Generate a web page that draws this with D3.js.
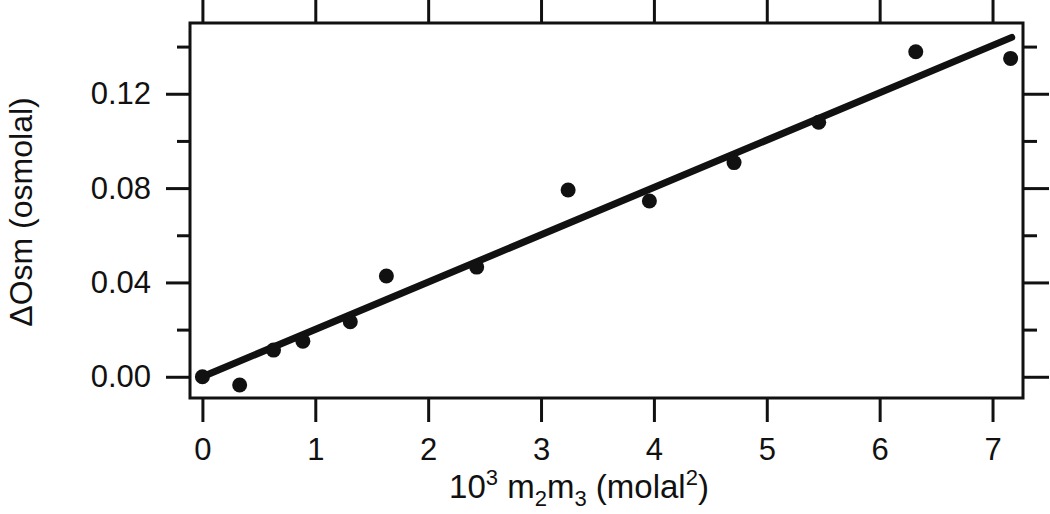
<script src="https://d3js.org/d3.v7.min.js"></script>
<style>
  body { margin: 0; background: #fff; }
  text { font-family: "Liberation Sans", Arial, sans-serif; fill: #111; }
</style>
<svg id="chart"></svg>
<script>
  // measured points
  var xVals = [0, 0.33, 0.63, 0.89, 1.31, 1.63, 2.43, 3.24, 3.96, 4.71, 5.46, 6.32, 7.16]
  var yVals = [0.000, -0.0035, 0.0113, 0.0151, 0.0233, 0.0427, 0.0465, 0.0792, 0.0745, 0.0908, 0.1079, 0.1378, 0.135]
  // linear fit through origin
  var fitX = [0, 7.17]
  var fitY = [0, 0.1439]
  var xTicks = [0, 1, 2, 3, 4, 5, 6, 7]
  var yMajor = [0, 0.04, 0.08, 0.12]
  var yMinor = [0.02, 0.06, 0.10, 0.14]

  var W = 1050, H = 514
  var L = 190, R = 1023, T = 23, B = 398
  var svg = d3.select("#chart").attr("width", W).attr("height", H)

  var x = d3.scaleLinear().domain([-0.11, 7.27]).range([L, R])
  var y = d3.scaleLinear().domain([-0.009, 0.15]).range([B, T])

  function styleAxis(g) {
    g.select(".domain").remove()
    g.selectAll("line").attr("stroke", "#111").attr("stroke-width", 3)
    g.selectAll("text").style("font-size", "31px").attr("fill", "#111")
  }

  // bottom & top
  svg.append("g").attr("transform", "translate(0," + B + ")")
      .call(d3.axisBottom(x).tickValues(xTicks).tickFormat(d3.format("d")).tickSize(24).tickSizeOuter(0).tickPadding(16))
      .call(styleAxis)
  svg.append("g").attr("transform", "translate(0," + T + ")")
      .call(d3.axisTop(x).tickValues(xTicks).tickFormat("").tickSize(24).tickSizeOuter(0))
      .call(styleAxis)

  // left
  svg.append("g").attr("transform", "translate(" + L + ",0)")
      .call(d3.axisLeft(y).tickValues(yMajor).tickFormat(d3.format(".2f")).tickSize(24).tickSizeOuter(0).tickPadding(15))
      .call(styleAxis)
  svg.append("g").attr("transform", "translate(" + L + ",0)")
      .call(d3.axisLeft(y).tickValues(yMinor).tickFormat("").tickSize(13).tickSizeOuter(0))
      .call(styleAxis)
  // right
  svg.append("g").attr("transform", "translate(" + R + ",0)")
      .call(d3.axisRight(y).tickValues(yMajor).tickFormat("").tickSize(26).tickSizeOuter(0))
      .call(styleAxis)
  svg.append("g").attr("transform", "translate(" + R + ",0)")
      .call(d3.axisRight(y).tickValues(yMinor).tickFormat("").tickSize(14).tickSizeOuter(0))
      .call(styleAxis)

  // frame
  svg.append("rect").attr("x", L).attr("y", T).attr("width", R - L).attr("height", B - T)
      .attr("fill", "none").attr("stroke", "#111").attr("stroke-width", 3)

  // fit line
  var fit = fitX.map(function (d, i) { return [d, fitY[i]] })
  svg.append("path").datum(fit)
      .attr("d", d3.line().x(function (d) { return x(d[0]) }).y(function (d) { return y(d[1]) }))
      .attr("fill", "none").attr("stroke", "#111").attr("stroke-width", 7).attr("stroke-linecap", "round")

  // points
  svg.selectAll("circle.pt").data(xVals).enter().append("circle").attr("class", "pt")
      .attr("cx", function (d) { return x(d) })
      .attr("cy", function (d, i) { return y(yVals[i]) })
      .attr("r", 7.5).attr("fill", "#111")

  // axis titles
  var xt = svg.append("text").attr("x", 579).attr("y", 498).attr("text-anchor", "middle").style("font-size", "33px")
  xt.append("tspan").text("10")
  xt.append("tspan").attr("dy", -13).style("font-size", "22px").text("3")
  xt.append("tspan").attr("dy", 13).text(" m")
  xt.append("tspan").attr("dy", 8).style("font-size", "22px").text("2")
  xt.append("tspan").attr("dy", -8).text("m")
  xt.append("tspan").attr("dy", 8).style("font-size", "22px").text("3")
  xt.append("tspan").attr("dy", -8).text(" (molal")
  xt.append("tspan").attr("dy", -13).style("font-size", "22px").text("2")
  xt.append("tspan").attr("dy", 13).text(")")

  svg.append("text").attr("transform", "translate(32,212) rotate(-90)")
      .attr("text-anchor", "middle").style("font-size", "32px").text("ΔOsm (osmolal)")
</script>
